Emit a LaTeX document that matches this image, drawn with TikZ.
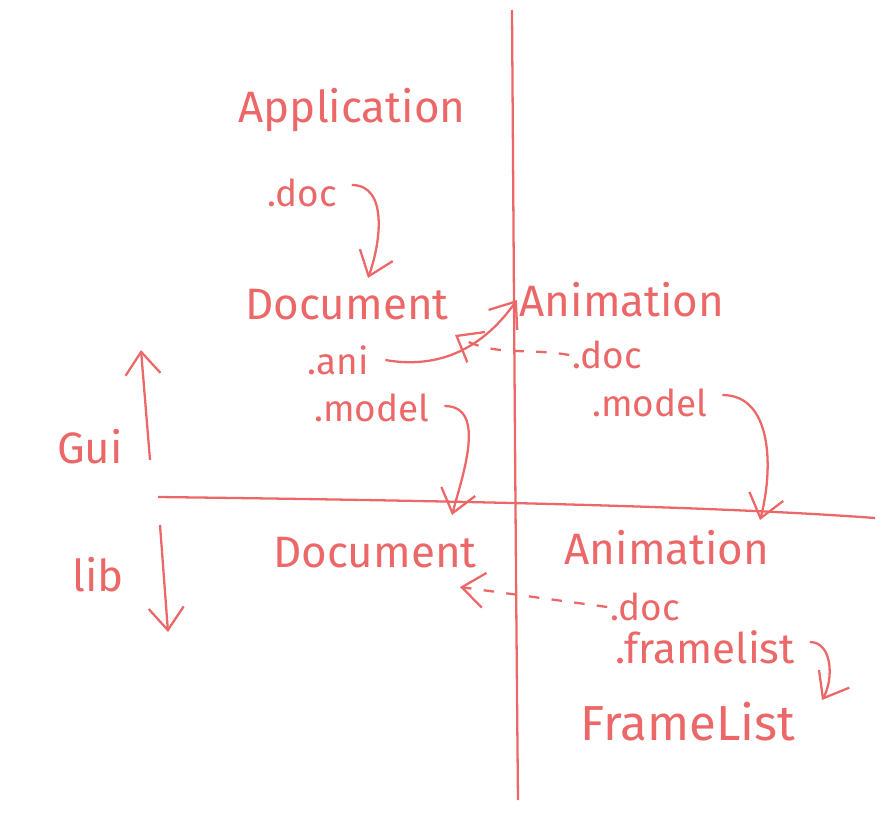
\documentclass[tikz,border=0pt]{standalone}
\usepackage{fontspec}
\setmainfont{Fira Sans}
\usetikzlibrary{arrows.meta}
\definecolor{pen}{RGB}{236,104,104}
\begin{document}
\begin{tikzpicture}[x=0.02cm,y=-0.02cm,
    line width=1.3pt,color=pen,
    big/.style={font=\fontsize{25}{25}\selectfont,inner sep=1pt},
    small/.style={font=\fontsize{21}{21}\selectfont,inner sep=1pt},
    arr/.style={-{Straight Barb[length=4.5mm,width=7mm]}},
    darr/.style={arr,dashed,dash pattern=on 6pt off 7pt}]
            \useasboundingbox (0,0) rectangle (896,832);
            \coordinate (top) at (512,10);
            \coordinate (bot) at (518,800);
            \coordinate (lft) at (158,497);
            \coordinate (rgt) at (875,518);
            \draw (top) .. controls (514,300) and (516,600) .. (bot);
            \draw (lft) .. controls (400,500) and (700,505) .. (rgt);
            \node[big] (app) at (352,110){Application};
            \node[small] (appdoc) at (302,193){.doc};
            \node[big] (doc1) at (347,305){Document};
            \node[small] (ani) at (338,360){.ani};
            \node[small] (model1) at (372,408){.model};
            \node[big] (anim1) at (622,300){Animation};
            \node[small] (animdoc1) at (607,355){.doc};
            \node[small] (model2) at (650,403){.model};
            \node[big] (doc2) at (375,553){Document};
            \node[big] (anim2) at (667,548){Animation};
            \node[small] (animdoc2) at (645,607){.doc};
            \node[small,font=\fontsize{24}{24}\selectfont] (framelist) at (705,647){.framelist};
            \node[big,font=\fontsize{28}{28}\selectfont] (frl) at (688,722){FrameList};
            \node[big] (gui) at (90,447){Gui};
            \node[big] (lib) at (98,575){lib};
            \coordinate (guiA) at (150,460);
            \coordinate (guiB) at (141,350);
            \coordinate (libA) at (160,525);
            \coordinate (libB) at (168,632);
            \draw[arr] (guiA) -- (guiB);
            \draw[arr] (libA) -- (libB);
            \draw[arr] (appdoc.east) ++(12,-8) to[out=0,in=70] (368,278);
            \draw[arr] (ani.east) ++(14,0) to[out=-10,in=235] (anim1.west);
            \draw[darr] (animdoc1.west) to[out=170,in=-30] (455,335);
            \draw[arr] (model1.east) ++(12,-2) to[out=0,in=75] (452,515);
            \draw[arr] (model2.east) ++(12,-8) to[out=0,in=75] (760,520);
            \draw[darr] (animdoc2.west) -- (460,587);
            \draw[arr] (framelist.east) ++(12,-5) to[out=0,in=60] (822,700);
        \end{tikzpicture}
\end{document}
